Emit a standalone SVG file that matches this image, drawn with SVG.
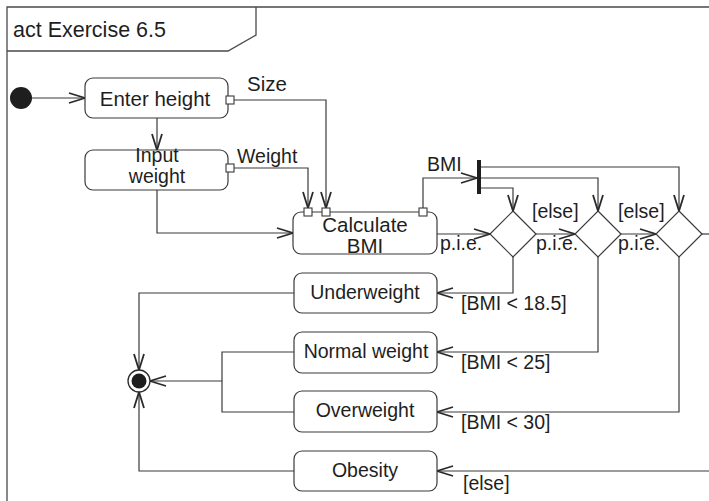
<svg xmlns="http://www.w3.org/2000/svg" width="709" height="501" viewBox="0 0 709 501">
  <defs>
    <marker id="open" markerUnits="userSpaceOnUse" markerWidth="20" markerHeight="14" viewBox="-18 -7 20 14" refX="0" refY="0" orient="auto">
      <path d="M-16,-5 L0,0 L-16,5" fill="none" stroke="#2a2a2a" stroke-width="1.8"/>
    </marker>
    <style>
      text { font-family: "Liberation Sans", Arial, Helvetica, sans-serif; font-size: 19.5px; fill: #1e1e1e; }
      .c { text-anchor: middle; }
      .big { font-size: 20.5px; }
      .title { font-size: 21.5px; }
      .action { fill: #ffffff; stroke: #3a3a3a; stroke-width: 1.2; }
      .pin { fill: #ffffff; stroke: #3a3a3a; stroke-width: 1.1; }
      .edge { fill: none; stroke: #3a3a3a; stroke-width: 1.2; }
      .arrow { marker-end: url(#open); }
      .frame { fill: none; stroke: #4a4a4a; stroke-width: 1.3; }
    </style>
  </defs>

  <rect width="709" height="501" fill="#ffffff"/>

  <!-- activity frame with name tab -->
  <g id="frame">
    <path class="frame" d="M7,501 L7,7 L709,7"/>
    <path class="frame" d="M7,51 L228,51 L256,35 L256,7"/>
    <text class="title" x="13" y="37">act Exercise 6.5</text>
  </g>

  <!-- connectors -->
  <g id="connectors">
    <path class="edge arrow" d="M32,98 L85,98"/>
    <path class="edge arrow" d="M157,118 L157,150"/>
    <path class="edge arrow" d="M234,100 L326,100 L326,208"/>
    <path class="edge arrow" d="M234,168 L308,168 L308,208"/>
    <path class="edge arrow" d="M157,190 L157,233 L293,233"/>
    <path class="edge arrow" d="M423,208 L423,178 L477,178"/>
    <path class="edge arrow" d="M481,188 L513,188 L513,211"/>
    <path class="edge arrow" d="M481,178 L598,178 L598,211"/>
    <path class="edge arrow" d="M481,167 L679,167 L679,211"/>
    <path class="edge arrow" d="M437,234 L490,234"/>
    <path class="edge arrow" d="M536,234 L575,234"/>
    <path class="edge arrow" d="M621,234 L656,234"/>
    <path class="edge" d="M702,234 L709,234"/>
    <path class="edge arrow" d="M513,257 L513,293 L437,293"/>
    <path class="edge arrow" d="M598,257 L598,352 L437,352"/>
    <path class="edge arrow" d="M679,257 L679,412 L437,412"/>
    <path class="edge arrow" d="M709,471 L437,471"/>
    <path class="edge arrow" d="M294,293 L139,293 L139,370"/>
    <path class="edge arrow" d="M294,471 L139,471 L139,392"/>
    <path class="edge" d="M294,352 L222,352 L222,412 L294,412"/>
    <path class="edge arrow" d="M222,381 L150,381"/>

    <text class="big" x="247" y="91">Size</text>
    <text x="237" y="163">Weight</text>
    <text x="427" y="171">BMI</text>
    <text x="440" y="250">p.i.e.</text>
    <text x="532" y="218">[else]</text>
    <text x="536" y="250">p.i.e.</text>
    <text x="618" y="218">[else]</text>
    <text x="618" y="250">p.i.e.</text>
    <text x="461" y="310">[BMI &lt; 18.5]</text>
    <text x="461" y="369">[BMI &lt; 25]</text>
    <text x="461" y="429">[BMI &lt; 30]</text>
    <text x="463" y="490">[else]</text>
  </g>

  <g id="initial">
    <circle cx="21" cy="98" r="11" fill="#1e1e1e"/>
  </g>

  <g id="enter-height">
    <rect class="action" x="85" y="78" width="143" height="40" rx="8"/>
    <text class="c big" x="155" y="106">Enter height</text>
    <rect class="pin" x="226" y="96" width="8" height="8"/>
  </g>

  <g id="input-weight">
    <rect class="action" x="85" y="150" width="143" height="40" rx="8"/>
    <text class="c" x="157" y="162">Input</text>
    <text class="c" x="157" y="183">weight</text>
    <rect class="pin" x="226" y="164" width="8" height="8"/>
  </g>

  <g id="calculate-bmi">
    <rect class="action" x="293" y="212" width="144" height="42" rx="8"/>
    <text class="c big" x="365" y="232">Calculate</text>
    <text class="c big" x="365" y="253">BMI</text>
    <rect class="pin" x="304" y="208" width="8" height="8"/>
    <rect class="pin" x="322" y="208" width="8" height="8"/>
    <rect class="pin" x="419" y="208" width="8" height="8"/>
  </g>

  <g id="fork">
    <rect x="477" y="160" width="4" height="34" fill="#1e1e1e"/>
  </g>

  <g id="decision-1">
    <path class="action" d="M513,211 L536,234 L513,257 L490,234 Z"/>
  </g>
  <g id="decision-2">
    <path class="action" d="M598,211 L621,234 L598,257 L575,234 Z"/>
  </g>
  <g id="decision-3">
    <path class="action" d="M679,211 L702,234 L679,257 L656,234 Z"/>
  </g>

  <g id="underweight">
    <rect class="action" x="294" y="273" width="143" height="40" rx="8"/>
    <text class="c" x="365" y="299">Underweight</text>
  </g>

  <g id="normal-weight">
    <rect class="action" x="294" y="332" width="143" height="41" rx="8"/>
    <text class="c" x="366" y="358">Normal weight</text>
  </g>

  <g id="overweight">
    <rect class="action" x="294" y="391" width="143" height="41" rx="8"/>
    <text class="c" x="365" y="417">Overweight</text>
  </g>

  <g id="obesity">
    <rect class="action" x="294" y="451" width="143" height="40" rx="8"/>
    <text class="c" x="365" y="477">Obesity</text>
  </g>

  <g id="final">
    <circle cx="139" cy="381" r="11" fill="#ffffff" stroke="#2a2a2a" stroke-width="1.3"/>
    <circle cx="139" cy="381" r="7.5" fill="#1e1e1e"/>
  </g>
</svg>
